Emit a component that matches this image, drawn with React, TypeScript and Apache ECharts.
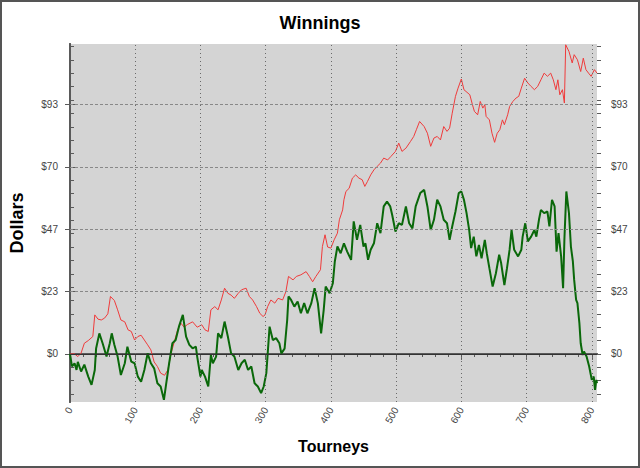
import React, { useEffect, useRef } from 'react';
import * as echarts from 'echarts';

// red series: tourney number / dollars
const redTourneys = [
  0, 7, 12, 17, 22, 28, 35, 38, 43, 48, 53, 58, 62, 68, 73, 78, 84, 89, 94, 99,
  104, 109, 114, 119, 124, 129, 134, 139, 145, 150, 155, 160, 165, 170, 175, 180, 188, 195,
  202, 207, 212, 216, 222, 227, 232, 237, 242, 247, 252, 258, 263, 270, 275, 280, 286, 291, 296, 299,
  303, 308, 314, 319, 326, 331, 335, 342, 347, 354, 362, 367, 372, 377, 384, 387, 391, 395,
  400, 405, 410, 413, 418, 420, 423, 428, 433, 438, 443, 448, 452, 456, 461, 466, 471, 476, 481, 487, 492, 499,
  504, 509, 515, 522, 527, 531, 536, 543, 548, 553, 558, 563, 568, 573, 578, 582, 586, 591, 595,
  600, 604, 613, 617, 620, 625, 629, 633, 636, 638, 643, 647, 651, 655, 659, 663, 666, 671, 674, 679, 684, 688, 692, 697,
  702, 707, 712, 717, 722, 727, 732, 737, 741, 745, 748, 751, 755, 758, 760, 765, 770, 773, 778, 783, 787, 791, 795, 799,
  804, 808,
];
const redDollars = [
  0, 0, -1, 0.3, 4, 5, 6.5, 14.6, 13, 12.7, 13.4, 15, 21.5, 20, 16.5, 12.7, 12, 9, 8.4, 5.2,
  6.5, 7, 5.2, 3.4, 1.5, -3, -4.7, -7.2, -8, -6, 0.2, 4.6, 9, 11.5, 10, 11, 12, 10,
  10.9, 9, 8.4, 16.5, 17.7, 16.5, 20.2, 24.6, 22.7, 22, 20.8, 22.7, 24, 24.6, 21.5, 20.2, 17.7, 15.2, 14, 14.6,
  17.7, 20.2, 19, 20.8, 20.2, 23.3, 29, 27.7, 29, 29.6, 30.8, 29, 27, 29, 31.5, 40.2, 44.6, 40,
  39.6, 42.7, 45.2, 50.2, 53.9, 57.7, 60.8, 62, 65.8, 67, 65.8, 65.2, 62.7, 64.5, 67, 68.9, 70.2, 71.4, 73.3, 72.6, 73.9, 75.8,
  78.9, 75.8, 77, 79.5, 81.4, 83.9, 87, 85.1, 82.6, 77.7, 80.8, 81.4, 80.1, 85.1, 83.3, 84.5, 90.1, 96.4, 99.5,
  102.9, 98.9, 97, 93.3, 90.8, 89.5, 94.5, 92, 93.3, 88.9, 87.6, 82.6, 79.2, 82.6, 83.9, 87.6, 85.8, 89.5, 92.6, 94.5, 95.8, 96.4, 99.5, 103.2,
  101.4, 100.1, 98.9, 100.1, 102.6, 105.1, 103.9, 105.1, 102.6, 98.9, 102.6, 97, 98.9, 93.9, 115.7, 113.2, 108.9, 112, 110.1, 105.7, 110.7, 106.4, 105.1, 103.9,
  106.4, 105.1,
];

// green series: tourney number / dollars
const greenTourneys = [
  0, 3, 7, 10, 12, 17, 22, 28, 33, 38, 40, 45, 50, 56, 61, 64, 68, 73, 78, 84, 88, 94, 99,
  104, 109, 114, 119, 124, 129, 134, 139, 144, 147, 152, 157, 162, 167, 173, 178, 183, 188, 193, 195,
  200, 202, 207, 212, 216, 219, 224, 227, 232, 237, 242, 247, 252, 258, 263, 268, 273, 278, 283, 288, 293, 297,
  301, 306, 311, 316, 321, 324, 329, 333, 335, 339, 344, 349, 354, 359, 364, 370, 375, 380, 385, 389, 392, 398,
  403, 406, 410, 415, 420, 425, 431, 435, 440, 445, 450, 453, 457, 461, 466, 471, 476, 481, 486, 491, 494, 499,
  504, 509, 515, 520, 525, 530, 537, 543, 548, 553, 558, 563, 568, 573, 578, 582, 586, 591, 596,
  600, 604, 608, 612, 615, 619, 623, 627, 631, 636, 639, 643, 648, 653, 658, 661, 666, 670, 674, 677, 681, 687, 692, 694, 698,
  702, 707, 712, 715, 719, 722, 727, 732, 735, 739, 743, 746, 749, 753, 756, 758, 761, 765, 768, 771, 773, 776, 778, 781, 783, 786, 788, 792, 796,
  800, 803, 805, 807, 808,
];
const greenDollars = [
  0, -4.7, -3.5, -6, -3, -6.6, -4, -8.5, -11.6, -6, 2, 7.7, 4, -1, 4, 7.7, 3.4, -1, -7.9, -3.5, 2.7, -2.9, -3.5,
  -8.5, -10.4, -6, 0.2, -3.5, -5.4, -11, -12.2, -17.2, -12, -3.5, 4, 5.2, 10.2, 14.6, 6.5, 3.4, 2.1, 2.7, -1,
  -8.5, -6, -8.5, -12.2, -0.4, -3.5, -1, 7.7, 5.9, 12.1, 6.5, 0.2, -1, -6, -3.5, -2.2, -6, -4.7, -11, -12.2, -14.7, -12.2,
  -7.2, 10.2, 5.2, 5.9, 4, 0.2, 2, 12.7, 21.5, 20.2, 17.7, 19.6, 15.2, 19, 15.2, 19, 24.6, 19, 7.7, 16.5, 25.2, 22.7,
  26.5, 34.6, 40.2, 37.7, 41.4, 38.3, 35.2, 49.6, 42.7, 48.3, 40.2, 41.4, 35.2, 39, 41.4, 48.9, 45.2, 55.2, 57, 55.2, 52, 45.8,
  48.9, 48.3, 55.2, 48.9, 47, 55.2, 60.2, 61.4, 55.2, 46.4, 50.2, 57.7, 55.2, 50.2, 48.9, 42.7, 47.7, 53.3, 60.2,
  60.8, 57.7, 52.7, 46.4, 39.6, 43.9, 36.5, 40.8, 35.8, 42.7, 37.7, 32.1, 25.2, 30.2, 37.1, 34, 25.8, 32.1, 39, 46.4, 39, 36.5, 39, 43.9, 48.9,
  42.1, 43.9, 46.4, 43.9, 50.2, 53.9, 52.7, 53.3, 47.7, 57.7, 55.2, 38.3, 45.2, 36.5, 24.6, 42.7, 60.8, 52.7, 40.2, 34.6, 27.7, 20.2, 19, 11.5, 4, -0.4, 0.9, -1, -4.7,
  -9.7, -8.5, -13.5, -9.7, -11,
];

// axis ticks
const xLabelValues = [0, 100, 200, 300, 400, 500, 600, 700, 800];
const xMinorValues = Array.from({ length: 41 }, (_, i) => i * 20);
const yLabelValues = [0, 70 / 3, 140 / 3, 70, 280 / 3];
const yMinorValues = Array.from({ length: 27 }, (_, i) => -15 + i * 5).concat([70 / 3, 140 / 3, 280 / 3]);

const X_MAX = 808;
const Y_MIN = -18;
const Y_MAX = 116;

const FONT = 'Liberation Sans, Arial, sans-serif';
const AXIS_COLOR = '#5a5a5a';

const App: React.FC = () => {
  const chartRef = useRef<HTMLDivElement>(null);

  useEffect(() => {
    document.body.style.margin = '0';
    if (!chartRef.current) return;
    const chart = echarts.init(chartRef.current, undefined, { renderer: 'svg' });

    const yBase = {
      type: 'value',
      min: Y_MIN,
      max: Y_MAX,
      splitLine: { show: false },
    };
    const xBase = {
      type: 'value',
      min: 0,
      max: X_MAX,
      splitLine: { show: false },
    };
    const majorLabel = {
      customValues: yLabelValues,
      formatter: (v: number) => '$' + Math.round(v),
      fontSize: 10,
      color: '#444',
      fontFamily: FONT,
      margin: 12,
    };

    chart.setOption({
      animation: false,
      textStyle: { fontFamily: FONT },
      title: {
        text: 'Winnings',
        left: 'center',
        top: 9,
        textStyle: { fontSize: 18, fontWeight: 'bold', color: '#000', fontFamily: FONT },
      },
      graphic: [
        {
          type: 'rect',
          shape: { x: 1, y: 1, width: 638, height: 466 },
          style: { fill: 'none', stroke: '#555', lineWidth: 2 },
          silent: true,
        },
      ],
      grid: {
        left: 68,
        right: 43,
        top: 44,
        bottom: 66,
        show: true,
        backgroundColor: '#d4d4d4',
        borderWidth: 0,
      },
      xAxis: [
        {
          ...xBase,
          position: 'bottom',
          name: 'Tourneys',
          nameLocation: 'middle',
          nameGap: 36,
          nameTextStyle: { fontSize: 16, fontWeight: 'bold', color: '#000', fontFamily: FONT },
          axisLine: { show: true, lineStyle: { color: AXIS_COLOR, width: 2 } },
          axisTick: { show: true, customValues: xLabelValues, length: 6, lineStyle: { color: AXIS_COLOR } },
          axisLabel: {
            customValues: xLabelValues,
            rotate: 60,
            fontSize: 10,
            color: '#444',
            margin: 6,
            fontFamily: FONT,
          },
        },
        {
          ...xBase,
          position: 'bottom',
          axisLine: { show: false },
          axisTick: { show: true, customValues: xMinorValues, length: 3, lineStyle: { color: AXIS_COLOR } },
          axisLabel: { show: false },
        },
        {
          ...xBase,
          position: 'top',
          axisLine: { show: true, lineStyle: { color: AXIS_COLOR, width: 2 } },
          axisTick: { show: true, inside: true, customValues: xMinorValues, length: 3, lineStyle: { color: AXIS_COLOR } },
          axisLabel: { show: false },
        },
      ],
      yAxis: [
        {
          ...yBase,
          position: 'left',
          name: 'Dollars',
          nameLocation: 'middle',
          nameGap: 44,
          nameTextStyle: { fontSize: 18, fontWeight: 'bold', color: '#000', fontFamily: FONT },
          axisLine: { show: true, lineStyle: { color: AXIS_COLOR, width: 2 } },
          axisTick: { show: true, customValues: yLabelValues, length: 5, lineStyle: { color: AXIS_COLOR } },
          axisLabel: majorLabel,
        },
        {
          ...yBase,
          position: 'left',
          axisLine: { show: false },
          axisTick: { show: true, inside: true, customValues: yMinorValues, length: 4, lineStyle: { color: AXIS_COLOR } },
          axisLabel: { show: false },
        },
        {
          ...yBase,
          position: 'right',
          axisLine: { show: true, lineStyle: { color: AXIS_COLOR, width: 2 } },
          axisTick: { show: true, customValues: yLabelValues, length: 6, lineStyle: { color: AXIS_COLOR } },
          axisLabel: { ...majorLabel, margin: 14 },
        },
        {
          ...yBase,
          position: 'right',
          axisLine: { show: false },
          axisTick: { show: true, customValues: yMinorValues, length: 4, lineStyle: { color: AXIS_COLOR } },
          axisLabel: { show: false },
        },
      ],
      series: [
        {
          // grid lines only
          type: 'line',
          data: [],
          z: 1,
          silent: true,
          markLine: {
            silent: true,
            symbol: 'none',
            label: { show: false },
            data: [
              ...xLabelValues.slice(1).map((v) => ({
                xAxis: v,
                lineStyle: { type: [1, 3], color: '#6a6a6a', width: 1 },
              })),
              ...yLabelValues.slice(1).map((v) => ({
                yAxis: v,
                lineStyle: { type: [3, 2], color: '#888', width: 1 },
              })),
              { yAxis: 0, lineStyle: { type: 'solid', color: '#333', width: 1 } },
            ],
          },
        },
        {
          name: 'Red',
          type: 'line',
          z: 3,
          data: redTourneys.map((t, i) => [t, redDollars[i]]),
          showSymbol: false,
          lineStyle: { color: '#ef3b3b', width: 1 },
          itemStyle: { color: '#ef3b3b' },
        },
        {
          name: 'Green',
          type: 'line',
          z: 4,
          data: greenTourneys.map((t, i) => [t, greenDollars[i]]),
          showSymbol: false,
          lineStyle: { color: '#0a680a', width: 2 },
          itemStyle: { color: '#0a680a' },
        },
      ],
    });

    return () => {
      chart.dispose();
    };
  }, []);

  return <div ref={chartRef} style={{ width: 640, height: 468 }} />;
};

export default App;
